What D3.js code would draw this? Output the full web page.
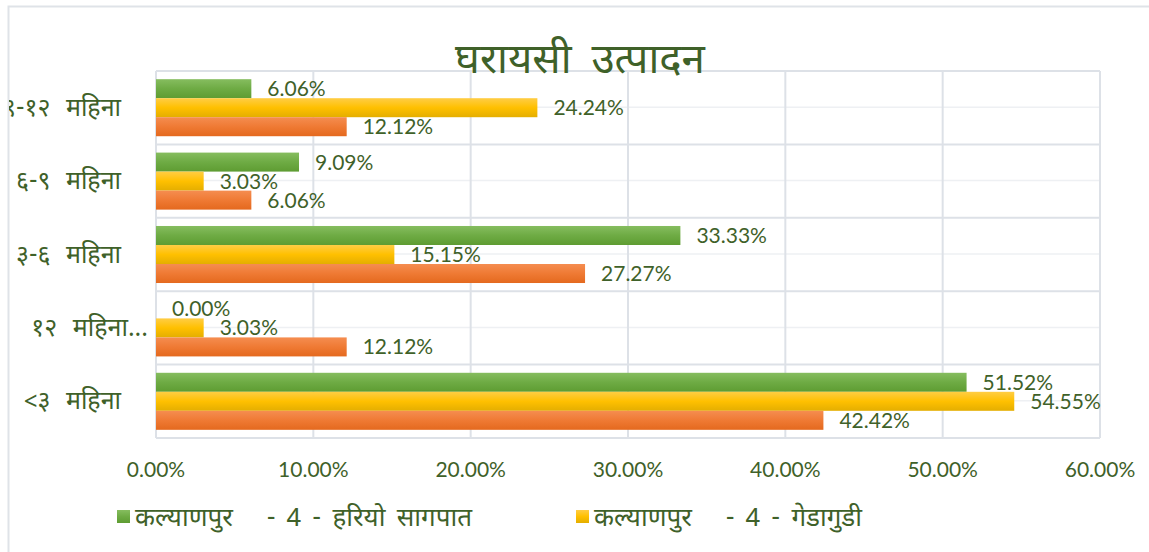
<!doctype html>
<html>
  <head>
    <meta charset="utf-8">
    <title>घरायसी उत्पादन</title>
    <script src="https://cdn.jsdelivr.net/npm/d3@7"></script>
    <style>
      body { margin: 0; background: #fff; }
      text { font-family: "Noto Sans Devanagari", "Lohit Devanagari", Lato, "Noto Sans", sans-serif; fill: #3f6129; }
      .num { font-family: Lato, "Liberation Sans", sans-serif; }
    </style>
  </head>
  <body>
    <script>
      const width = 1149;
      const height = 552;

      // 数据
      const categories = ['९-१२ महिना', '६-९ महिना', '३-६ महिना', '१२ महिना...', '<३ महिना'];
      const seriesNames = ['कल्याणपुर   - 4 - हरियो सागपात', 'कल्याणपुर   - 4 - गेडागुडी', 'कल्याणपुर   - 4 - अन्य'];
      const greenValues = [6.06, 9.09, 33.33, 0.00, 51.52];
      const yellowValues = [24.24, 3.03, 15.15, 3.03, 54.55];
      const orangeValues = [12.12, 6.06, 27.27, 12.12, 42.42];
      const xTicks = [0, 10, 20, 30, 40, 50, 60];

      const series = [
        { key: 's0', name: seriesNames[0], values: greenValues, top: '#86bd5f', mid: '#6eab44', bottom: '#5e9c32' },
        { key: 's1', name: seriesNames[1], values: yellowValues, top: '#ffcd45', mid: '#ffc000', bottom: '#e4ae00' },
        { key: 's2', name: seriesNames[2], values: orangeValues, top: '#f58d50', mid: '#ef7a34', bottom: '#e4691e' }
      ];

      const plot = { left: 156, right: 1100, top: 71, bottom: 438 };

      const svg = d3.select('body').append('svg')
          .attr('width', width)
          .attr('height', height);

      const defs = svg.append('defs');
      series.forEach(s => {
        const g = defs.append('linearGradient')
            .attr('id', 'grad-' + s.key)
            .attr('x1', 0).attr('y1', 0).attr('x2', 0).attr('y2', 1);
        g.append('stop').attr('offset', '0%').attr('stop-color', s.top);
        g.append('stop').attr('offset', '50%').attr('stop-color', s.mid);
        g.append('stop').attr('offset', '100%').attr('stop-color', s.bottom);
      });
      defs.append('clipPath').attr('id', 'frame-clip')
        .append('rect').attr('x', 9).attr('y', 0).attr('width', width).attr('height', height);

      // 图表外框
      svg.append('rect')
          .attr('x', 8.5).attr('y', 6.5)
          .attr('width', 1300).attr('height', 700)
          .attr('fill', 'none')
          .attr('stroke', '#dfe3e8')
          .attr('stroke-width', 2);

      // 比例尺
      const x = d3.scaleLinear()
          .domain([0, 60])
          .range([plot.left, plot.right]);

      const y = d3.scaleBand()
          .domain(categories)
          .range([plot.top, plot.bottom])
          .paddingInner(0.223)
          .paddingOuter(0.1115);

      const yInner = d3.scaleBand()
          .domain(series.map(s => s.key))
          .range([0, y.bandwidth()]);

      const step = y.step();
      const bandEdges = categories.map((c, i) => plot.top + i * step);

      // 次要网格线
      svg.append('g')
        .selectAll('line')
        .data(categories)
        .enter().append('line')
          .attr('x1', plot.left).attr('x2', plot.right)
          .attr('y1', d => y(d) + y.bandwidth() / 2 - 0.5)
          .attr('y2', d => y(d) + y.bandwidth() / 2 - 0.5)
          .attr('stroke', '#eef0f3')
          .attr('stroke-width', 1.5);

      // 主要网格线
      svg.append('g')
        .selectAll('line')
        .data(xTicks)
        .enter().append('line')
          .attr('x1', d => x(d)).attr('x2', d => x(d))
          .attr('y1', plot.top).attr('y2', plot.bottom)
          .attr('stroke', '#dde1e7')
          .attr('stroke-width', 2);

      svg.append('g')
        .selectAll('line')
        .data(bandEdges.concat([plot.bottom]))
        .enter().append('line')
          .attr('x1', plot.left).attr('x2', plot.right)
          .attr('y1', d => d).attr('y2', d => d)
          .attr('stroke', '#dde1e7')
          .attr('stroke-width', 2);

      // 柱子
      const groups = svg.append('g')
        .selectAll('g')
        .data(series)
        .enter().append('g');

      groups.selectAll('rect')
        .data(s => s.values.map((v, i) => ({ s, v, c: categories[i] })))
        .enter().append('rect')
          .attr('x', x(0))
          .attr('y', d => y(d.c) + yInner(d.s.key))
          .attr('width', d => x(d.v) - x(0))
          .attr('height', yInner.bandwidth())
          .attr('fill', d => 'url(#grad-' + d.s.key + ')');

      // 数据标签
      groups.selectAll('text')
        .data(s => s.values.map((v, i) => ({ s, v, c: categories[i] })))
        .enter().append('text')
          .attr('class', 'num')
          .attr('x', d => x(d.v) + 16)
          .attr('y', d => y(d.c) + yInner(d.s.key) + yInner.bandwidth() / 2 + 7.5)
          .attr('font-size', 21)
          .text(d => d.v.toFixed(2) + '%');

      // y轴标签
      svg.append('g')
          .attr('clip-path', 'url(#frame-clip)')
        .selectAll('text')
        .data(categories)
        .enter().append('text')
          .attr('x', d => d.endsWith('...') ? 148 : 121)
          .attr('y', d => y(d) + y.bandwidth() / 2 + 8)
          .attr('text-anchor', 'end')
          .attr('font-size', 25)
          .attr('word-spacing', 9)
          .text(d => d);

      // x轴标签
      svg.append('g')
        .selectAll('text')
        .data(xTicks)
        .enter().append('text')
          .attr('class', 'num')
          .attr('x', d => x(d))
          .attr('y', 477)
          .attr('text-anchor', 'middle')
          .attr('font-size', 21)
          .text(d => d.toFixed(2) + '%');

      // 标题
      svg.append('text')
          .attr('x', 580)
          .attr('y', 73)
          .attr('text-anchor', 'middle')
          .attr('font-size', 42)
          .attr('word-spacing', 9)
          .text('घरायसी उत्पादन');

      // 图例（第三项在原图中被截断）
      const legendX = [117, 576];
      const legend = svg.append('g')
        .selectAll('g')
        .data(series.slice(0, 2))
        .enter().append('g')
          .attr('transform', (d, i) => `translate(${legendX[i]},510)`);

      legend.append('rect')
          .attr('width', 13).attr('height', 13)
          .attr('fill', d => 'url(#grad-' + d.key + ')');

      legend.append('text')
          .attr('x', 18)
          .attr('y', 16)
          .attr('font-size', 26)
          .attr('word-spacing', 4.5)
          .style('white-space', 'pre')
          .text(d => d.name);
    </script>
  </body>
</html>
